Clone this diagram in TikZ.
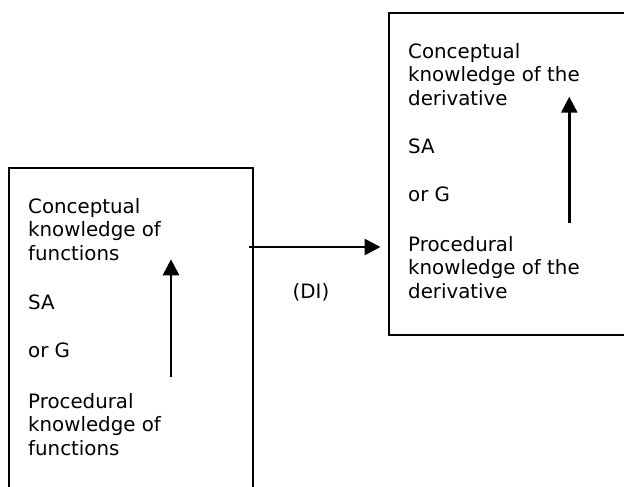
\documentclass[tikz,border=0pt]{standalone}
\usepackage{fontspec}
\newfontfamily\lab{DejaVu Sans}
\usetikzlibrary{arrows.meta}
\begin{document}
\begin{tikzpicture}[x=1pt,y=-1pt,
  frame/.style={draw=black,line width=2.4pt,rectangle,inner sep=0pt},
  txt/.style={font={\lab\fontsize{19.8}{23.5}\selectfont},inner sep=0pt,anchor=base west,align=left},
  arr/.style={line width=2.8pt,-{Triangle[length=16pt,width=16pt]}}]
\useasboundingbox (0,0) rectangle (624,487);
% the two boxes; their far sides run off the page
\node[frame,minimum width=244pt,minimum height=360pt,anchor=north west] (lbox) at (8,166.7) {};
\node[frame,minimum width=280pt,minimum height=322.3pt,anchor=north west] (rbox) at (387.5,11.7) {};
% left box texts (multi-line nodes sit on the baseline of their last line)
\node[txt] (lcon) at (28,260) {Conceptual\\knowledge of\\functions};
\node[txt] (lsa) at (28,309) {SA};
\node[txt] (lorg) at (28,357.7) {or G};
\node[txt] (lpro) at (28,455) {Procedural\\knowledge of\\functions};
% right box texts
\node[txt] (rcon) at (408,105) {Conceptual\\knowledge of the\\derivative};
\node[txt] (rsa) at (408,153) {SA};
\node[txt] (rorg) at (408,201.7) {or G};
\node[txt] (rpro) at (408,298.3) {Procedural\\knowledge of the\\derivative};
% label of the link
\node[txt,anchor=base] (di) at (311,298.3) {(DI)};
% arrows
\coordinate (la) at (171,376.7);
\coordinate (lb) at (171,259.3);
\coordinate (ra) at (569.3,222.7);
\coordinate (rb) at (569.3,96.7);
\draw[arr] (la) -- (lb);
\draw[arr] (ra) -- (rb);
\draw[arr] ([xshift=-5pt]lbox.east |- 0,247) -- ([xshift=-7pt]rbox.west |- 0,247);
\end{tikzpicture}
\end{document}
